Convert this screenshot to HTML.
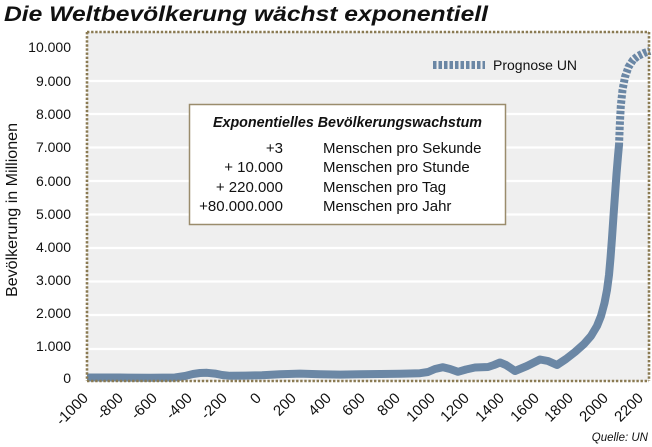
<!DOCTYPE html>
<html><head><meta charset="utf-8"><style>
html,body{margin:0;padding:0;background:#fff;}
svg{display:block;}
text{font-family:"Liberation Sans",Arial,sans-serif;fill:#111;}
</style></head><body>
<svg width="652" height="447" viewBox="0 0 652 447" xmlns="http://www.w3.org/2000/svg">
<rect x="0" y="0" width="652" height="447" fill="#fff"/>
<text x="4" y="21" font-size="21" font-weight="bold" font-style="italic" textLength="484" lengthAdjust="spacingAndGlyphs">Die Weltbevölkerung wächst exponentiell</text>
<!-- plot bg -->
<rect x="87" y="32" width="562" height="349" fill="#efefef"/>
<!-- gridlines -->
<g stroke="#fff" stroke-width="2.2">
<line x1="87" x2="649" y1="349" y2="349"/>
<line x1="87" x2="649" y1="315" y2="315"/>
<line x1="87" x2="649" y1="281.5" y2="281.5"/>
<line x1="87" x2="649" y1="248" y2="248"/>
<line x1="87" x2="649" y1="214.5" y2="214.5"/>
<line x1="87" x2="649" y1="181" y2="181"/>
<line x1="87" x2="649" y1="147.5" y2="147.5"/>
<line x1="87" x2="649" y1="114" y2="114"/>
<line x1="87" x2="649" y1="81" y2="81"/>
</g>
<!-- y tick labels -->
<g font-size="14" text-anchor="end">
<text x="71" y="52">10.000</text>
<text x="71" y="86">9.000</text>
<text x="71" y="119">8.000</text>
<text x="71" y="152">7.000</text>
<text x="71" y="186">6.000</text>
<text x="71" y="219">5.000</text>
<text x="71" y="252">4.000</text>
<text x="71" y="285">3.000</text>
<text x="71" y="318">2.000</text>
<text x="71" y="351">1.000</text>
<text x="71" y="383">0</text>
</g>
<text transform="translate(17,210) rotate(-90)" font-size="16" text-anchor="middle" textLength="174" lengthAdjust="spacingAndGlyphs">Bevölkerung in Millionen</text>
<!-- x tick labels -->
<g font-size="15" text-anchor="end">
<text transform="translate(89,399) rotate(-45)">-1000</text>
<text transform="translate(124,399) rotate(-45)">-800</text>
<text transform="translate(158,399) rotate(-45)">-600</text>
<text transform="translate(193,399) rotate(-45)">-400</text>
<text transform="translate(228,399) rotate(-45)">-200</text>
<text transform="translate(262,399) rotate(-45)">0</text>
<text transform="translate(297,399) rotate(-45)">200</text>
<text transform="translate(332,399) rotate(-45)">400</text>
<text transform="translate(366,399) rotate(-45)">600</text>
<text transform="translate(401,399) rotate(-45)">800</text>
<text transform="translate(436,399) rotate(-45)">1000</text>
<text transform="translate(470,399) rotate(-45)">1200</text>
<text transform="translate(505,399) rotate(-45)">1400</text>
<text transform="translate(540,399) rotate(-45)">1600</text>
<text transform="translate(574,399) rotate(-45)">1800</text>
<text transform="translate(609,399) rotate(-45)">2000</text>
<text transform="translate(644,399) rotate(-45)">2200</text>
</g>
<!-- series -->
<polyline fill="none" stroke="#6b87a5" stroke-width="8" stroke-linejoin="round" stroke-linecap="butt"
points="87,377.5 120,377.5 150,377.8 175,377.5 185,376 193,374 200,373 207,372.8 215,373.6 222,375 230,375.8 245,375.6 262,375.2 280,374.2 300,373.6 320,374.2 340,374.6 360,374.3 380,374 400,373.8 420,373.2 428,372 435,369 443,367.2 450,369 458,371.8 466,369.5 475,367.5 488,367 494,365 500,362.5 506,365 515,371 527,366 540,359.5 548,361 557,365 566,359 575,352 584,344 591,336 597,326 601,316 604.5,303 607,290 609,275 610.5,258 612,238 613.5,216 615,195 616.5,174 618,156 619,145"/>
<polyline fill="none" stroke="#6b87a5" stroke-width="8" stroke-dasharray="3.5,1.8" stroke-linejoin="round"
points="619,146 619.8,125 620.8,106 622.5,90 625,77 628.5,67 633,60 638,56 644,53 650,51"/>
<!-- border dotted -->
<g stroke="#8a7a52" stroke-width="2.6" stroke-dasharray="2.4,1.7" fill="none">
<line x1="87" y1="32" x2="649" y2="32"/>
<line x1="87" y1="32" x2="87" y2="381"/>
<line x1="649" y1="32" x2="649" y2="381"/>
<line x1="87" y1="381" x2="649" y2="381"/>
</g>
<!-- legend -->
<line x1="433" y1="65" x2="485" y2="65" stroke="#6b87a5" stroke-width="8" stroke-dasharray="3.5,2"/>
<text x="493" y="70" font-size="14">Prognose UN</text>
<!-- info box -->
<rect x="189.5" y="104.5" width="316" height="120" fill="#fff" stroke="#9a8c6c" stroke-width="1.5"/>
<text x="347.5" y="127" font-size="15" font-weight="bold" font-style="italic" text-anchor="middle" textLength="269" lengthAdjust="spacingAndGlyphs">Exponentielles Bevölkerungswachstum</text>
<g font-size="15">
<text x="283" y="153" text-anchor="end">+3</text>
<text x="283" y="172" text-anchor="end">+ 10.000</text>
<text x="283" y="192" text-anchor="end">+ 220.000</text>
<text x="283" y="211" text-anchor="end">+80.000.000</text>
<text x="323" y="153">Menschen pro Sekunde</text>
<text x="323" y="172">Menschen pro Stunde</text>
<text x="323" y="192">Menschen pro Tag</text>
<text x="323" y="211">Menschen pro Jahr</text>
</g>
<text x="648" y="441" font-size="11.5" font-style="italic" text-anchor="end">Quelle: UN</text>
</svg>
</body></html>
